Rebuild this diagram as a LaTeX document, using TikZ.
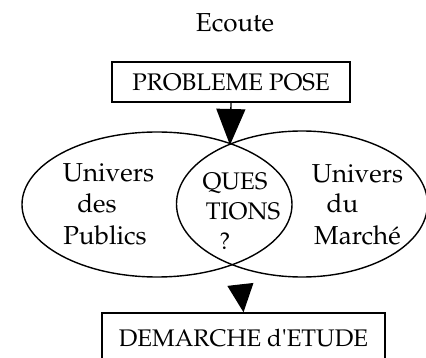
\documentclass[tikz,border=0pt]{standalone}
\usepackage[T1]{fontenc}
\usepackage{textcomp}
\renewcommand{\rmdefault}{ppl}
\usetikzlibrary{shapes.geometric,arrows.meta}
\begin{document}
\begin{tikzpicture}[x=1pt,y=-1pt,
  every node/.style={inner sep=0pt},
  caps/.style={font=\fontsize{24}{28}\selectfont},
  words/.style={font=\fontsize{26}{30}\selectfont, anchor=base},
  framed/.style={draw, line width=1.5pt, rectangle, caps},
  universe/.style={draw, ellipse, line width=1.4pt},
  bigarrow/.style={line width=1.3pt, -{Triangle[width=29pt,length=36pt]}},
  smallarrow/.style={line width=1.3pt, -{Triangle[width=26pt,length=28pt]}}
]
\useasboundingbox (0,0) rectangle (426,358);

% heading
\node[words] (ecoute) at (235,32) {Ecoute};

% top box
\node[framed, minimum width=238pt, minimum height=40pt] (pb) at (231,82) {PROBLEME POSE};

% the two universes
\node[universe, minimum width=270pt, minimum height=145pt] (left) at (157,204.5) {};
\node[universe, minimum width=251pt, minimum height=146pt] (right) at (302,204) {};
\coordinate (topx) at (230,145);
\coordinate (botx) at (238,263);

% bottom box
\node[framed, minimum width=283pt, minimum height=51pt] (dm) at (243.5,338.5) {DEMARCHE d\textquotesingle ETUDE};

% arrows
\draw[bigarrow] (pb.south) -- (topx);
\draw[smallarrow, shorten <=23pt] (botx) -- (dm.north);

% labels inside the universes
\node[words] (u1) at (108.5,182) {Univers};
\node[words] (u2) at (97,213) {des};
\node[words] (u3) at (105,245) {Publics};

\node[caps, anchor=base] (q1) at (235,190) {QUES};
\node[caps, anchor=base] (q2) at (243,220) {TIONS};
\node[caps, anchor=base] (q3) at (225,250) {?};

\node[words] (m1) at (357.5,183) {Univers};
\node[words] (m2) at (342.5,213) {du};
\node[words] (m3) at (357.5,245) {March\'e};
\end{tikzpicture}
\end{document}
